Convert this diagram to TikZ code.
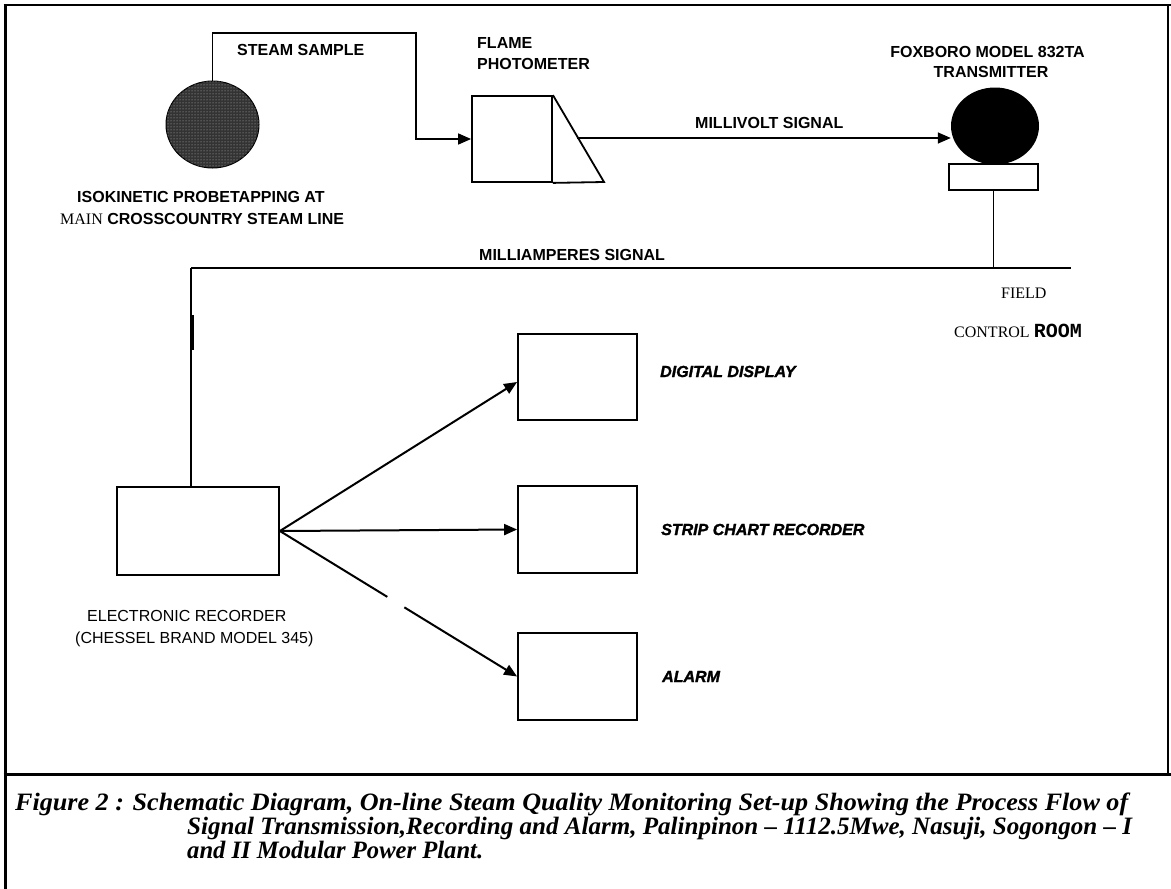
\documentclass[tikz,border=0pt]{standalone}
\usepackage{graphicx}
\usepackage{fontspec}
\setmainfont{Liberation Serif}
\newfontfamily\arialf{Liberation Sans}
\newfontfamily\heavyf{Liberation Sans}[BoldItalicFeatures={FakeBold=1.6}]
\newfontfamily\courf{Liberation Mono}
\usetikzlibrary{arrows.meta,patterns,shapes.geometric}
\begin{document}
\begin{tikzpicture}[x=1pt,y=-1pt,
  boxn/.style={draw, line width=1.8pt, inner sep=0pt},
  boxline/.style={line width=1.8pt, line join=miter},
  conn/.style={line width=1.6pt},
  arr/.style={line width=1.5pt, -{Triangle[length=13pt,width=11pt]}},
  arrb/.style={line width=2pt, -{Triangle[length=13pt,width=11pt]}},
  lbl/.style={font=\arialf\bfseries\fontsize{16}{18}\selectfont, inner sep=0pt, anchor=base west},
  lblc/.style={lbl, anchor=base},
  ilbl/.style={font=\heavyf\bfseries\itshape\fontsize{16}{18}\selectfont, inner sep=0pt, anchor=base west},
  rlbl/.style={font=\arialf\fontsize{16}{18}\selectfont, inner sep=0pt, anchor=base west},
  slbl/.style={font=\rmfamily\fontsize{16}{18}\selectfont, inner sep=0pt, anchor=base west},
  caption/.style={font=\rmfamily\bfseries\itshape\fontsize{25}{27}\selectfont, inner sep=0pt, anchor=base west}]
\useasboundingbox (0,0) rectangle (1171,889);
% frame
\draw[line width=3pt] (5,889) -- (5,5);
\draw[line width=2.5pt] (3.5,5) -- (1171,5);
\draw[line width=1.5pt] (1168,5) -- (1168,774);
\draw[line width=3pt] (3.5,774) -- (1171,774);

% components
\node[ellipse, draw, line width=1pt, fill=black!80, minimum width=93pt, minimum height=87pt, inner sep=0pt,
      postaction={pattern=dots, pattern color=black!25}] (probe) at (212.5,124.5) {};
\node[boxn, minimum width=80pt, minimum height=86pt] (flame) at (512,139) {};
\coordinate (tri) at (604,182);
\draw[boxline] (flame.north east) -- (tri) -- (flame.south east);
\coordinate (mv) at (577,138);
\node[ellipse, fill=black, minimum width=88pt, minimum height=77pt, inner sep=0pt] (tx) at (995,126) {};
\node[boxn, minimum width=89pt, minimum height=26pt] (base) at (993.5,177) {};
\coordinate (s1) at (416,33);
\coordinate (busL) at (191,268);
\coordinate (busR) at (1071,268);
\node[boxn, minimum width=162pt, minimum height=88pt] (rec) at (198,531) {};
\node[boxn, minimum width=119pt, minimum height=86pt] (dig) at (577.5,377) {};
\node[boxn, minimum width=119pt, minimum height=87pt] (strip) at (577.5,529.5) {};
\node[boxn, minimum width=119pt, minimum height=87pt] (alarm) at (577.5,676.5) {};

% connectors
\draw[arr] (probe.north) |- (s1) |- (flame.west);
\draw[arr] (mv) -- (mv -| tx.west);
\draw[conn] (base.south) -- (base.south |- busR);
\draw[conn] (busL) -- (busR);
\draw[conn] (busL) -- (busL |- rec.north);
\draw[line width=2.4pt] (193,315) -- (193,350);
\draw[arrb] (rec.east) -- ([yshift=-5pt]dig.west);
\draw[arrb] (rec.east) -- (strip.west);
\draw[arrb, dash pattern=on 126pt off 20pt on 400pt] (rec.east) -- (alarm.west);

% labels
\node[lbl] (tss) at (237,55) {STEAM SAMPLE};
\node[lbl] (tfl) at (477,48) {FLAME};
\node[lbl] (tph) at (477,69) {PHOTOMETER};
\node[lbl] (tp1) at (77,202) {ISOKINETIC PROBETAPPING AT};
\node[lbl] (tp2) at (60,224) {{\rmfamily\mdseries MAIN} CROSSCOUNTRY STEAM LINE};
\node[lbl] (tmv) at (695,128) {MILLIVOLT SIGNAL};
\node[lblc] (tfx) at (987.5,57) {FOXBORO MODEL 832TA};
\node[lblc] (ttr) at (991,77) {TRANSMITTER};
\node[lbl] (tma) at (479,260) {MILLIAMPERES SIGNAL};
\node[slbl] (tfd) at (1001,298) {FIELD};
\node[slbl] (tcr) at (954,337) {CONTROL\hspace{4pt}{\courf\bfseries\fontsize{20}{20}\selectfont ROOM}};
\node[ilbl] (tdd) at (660,377) {DIGITAL DISPLAY};
\node[ilbl] (tsc) at (661,535) {STRIP CHART RECORDER};
\node[ilbl] (tal) at (662,682) {ALARM};
\node[rlbl] (te1) at (87,621) {ELECTRONIC RECORDER};
\node[rlbl] (te2) at (75,643) {(CHESSEL BRAND MODEL 345)};

% caption
\node[caption] (c1) at (15,810) {\resizebox{1113pt}{\height}{Figure 2 : Schematic Diagram, On-line Steam Quality Monitoring Set-up Showing the Process Flow of}};
\node[caption] (c2) at (187,834) {\resizebox{945pt}{\height}{Signal Transmission,Recording and Alarm, Palinpinon -- 1112.5Mwe, Nasuji, Sogongon -- I}};
\node[caption] (c3) at (187,858) {\resizebox{296pt}{\height}{and II Modular Power Plant.}};
\end{tikzpicture}
\end{document}
